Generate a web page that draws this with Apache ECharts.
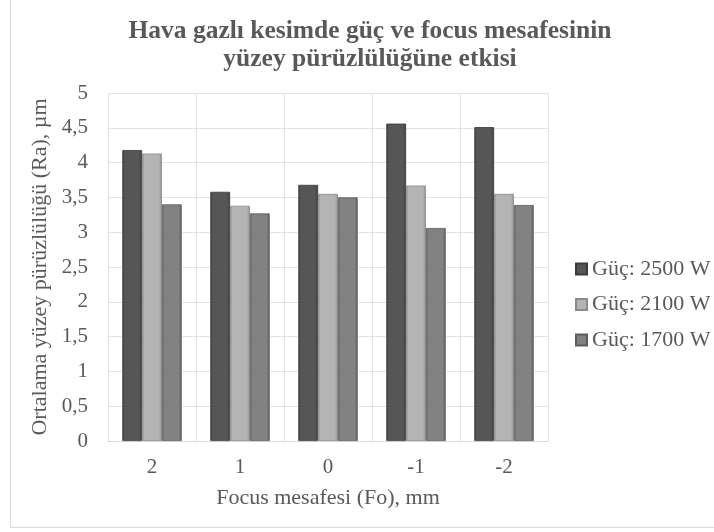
<!DOCTYPE html>
<html>
<head>
<meta charset="utf-8">
<script src="https://cdn.jsdelivr.net/npm/echarts@6/dist/echarts.min.js"></script>
<style>html,body{margin:0;padding:0;background:#fff}#c{width:714px;height:532px}</style>
</head>
<body>
<div id="c"></div>
<script>
const categories = ['2', '1', '0', '-1', '-2'];
const seriesNames = ['Güç: 2500 W', 'Güç: 2100 W', 'Güç: 1700 W'];
const power2500 = [4.18, 3.58, 3.68, 4.56, 4.51];
const power2100 = [4.13, 3.38, 3.55, 3.67, 3.55];
const power1700 = [3.40, 3.27, 3.50, 3.06, 3.39];
const yTicks = { min: 0, max: 5, interval: 0.5 };

const FONT = "'Liberation Serif', 'Times New Roman', serif";
const TXT = '#595959';

function grad(edge, mid) {
  return new echarts.graphic.LinearGradient(0, 0, 1, 0, [
    { offset: 0, color: edge },
    { offset: 0.12, color: mid },
    { offset: 0.85, color: mid },
    { offset: 1, color: edge }
  ]);
}
const styles = [
  { c: grad('#3c3c3c', '#565656'), b: '#3a3a3a' },
  { c: grad('#8e8e8e', '#b4b4b4'), b: '#8a8a8a' },
  { c: grad('#5e5e5e', '#818181'), b: '#5c5c5c' }
];
const dataSets = [power2500, power2100, power1700];

const chart = echarts.init(document.getElementById('c'));
chart.setOption({
  backgroundColor: '#fff',
  animation: false,
  title: {
    text: 'Hava gazlı kesimde güç ve focus mesafesinin\nyüzey pürüzlülüğüne etkisi',
    left: 365, top: 12, textAlign: 'center',
    textStyle: { fontFamily: FONT, fontSize: 25.5, fontWeight: 'bold', color: TXT, lineHeight: 28 }
  },
  graphic: [{
    type: 'rect', shape: { x: 10.5, y: -5, width: 720, height: 532.5 },
    style: { fill: 'none', stroke: '#d9d9d9', lineWidth: 1 }, z: -1
  }],
  legend: {
    orient: 'vertical', left: 575, top: 258, padding: 0,
    itemWidth: 11, itemHeight: 11, itemGap: 13.5,
    icon: 'rect',
    textStyle: { fontFamily: FONT, fontSize: 22, color: TXT, lineHeight: 20 },
    data: seriesNames
  },
  grid: { left: 108, right: 166, top: 93, bottom: 91 },
  xAxis: {
    type: 'category', data: categories,
    axisLine: { lineStyle: { color: '#d9d9d9' } },
    axisTick: { show: false },
    splitLine: { show: true, lineStyle: { color: '#e3e3e3' } },
    axisLabel: { fontFamily: FONT, fontSize: 21, color: TXT, margin: 16 },
    name: 'Focus mesafesi (Fo), mm', nameLocation: 'middle', nameGap: 46,
    nameTextStyle: { fontFamily: FONT, fontSize: 22, color: TXT }
  },
  yAxis: {
    type: 'value', min: yTicks.min, max: yTicks.max, interval: yTicks.interval,
    axisLine: { show: false }, axisTick: { show: false },
    splitLine: { lineStyle: { color: '#e3e3e3' } },
    axisLabel: { fontFamily: FONT, fontSize: 21, color: TXT, margin: 20,
      formatter: v => String(v).replace('.', ',') },
    name: 'Ortalama yüzey pürüzlülüğü (Ra), µm', nameLocation: 'middle', nameGap: 45,
    nameTextStyle: { fontFamily: FONT, fontSize: 22, color: TXT }
  },
  series: seriesNames.map((n, i) => ({
    type: 'bar', name: n, data: dataSets[i],
    barGap: 0, barCategoryGap: '32.5%',
    itemStyle: { color: styles[i].c, borderColor: styles[i].b, borderWidth: 0.8 }
  }))
});
</script>
</body>
</html>
